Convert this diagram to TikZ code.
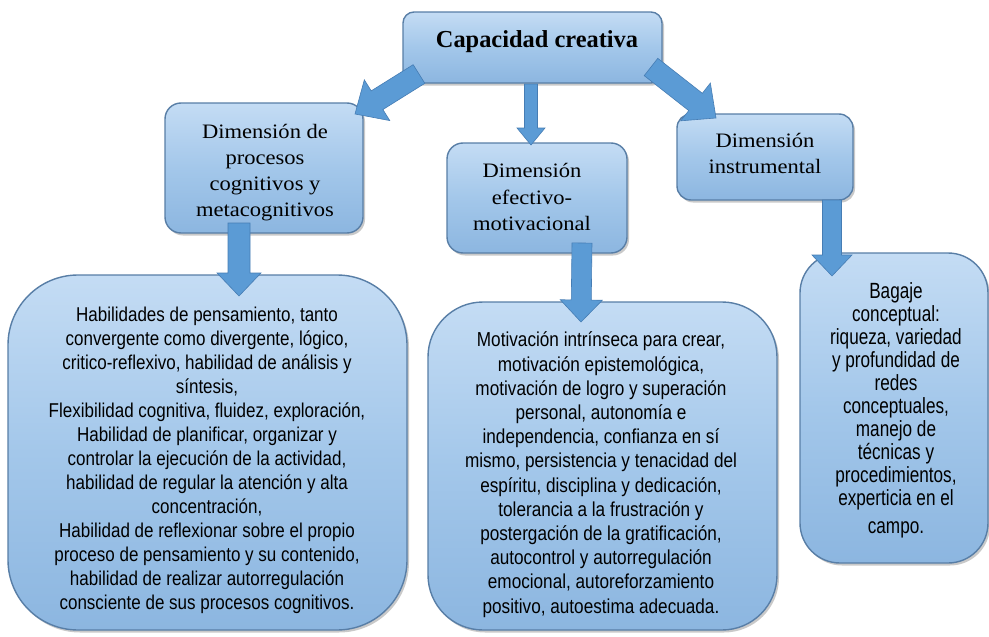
\documentclass[tikz,border=0pt]{standalone}
\usepackage{fontspec}
\setmainfont{Liberation Serif}
\newfontfamily\timesw[FakeStretch=1.1]{Liberation Serif}
\newfontfamily\arialc[FakeStretch=0.85]{Liberation Sans}
\newfontfamily\arialr[FakeStretch=0.78]{Liberation Sans}
\usetikzlibrary{calc,shadows}
\definecolor{boxtop}{RGB}{196,220,244}
\definecolor{boxmid}{RGB}{163,199,234}
\definecolor{boxbot}{RGB}{140,182,224}
\definecolor{boxline}{RGB}{88,126,166}
\definecolor{arrowc}{RGB}{91,155,213}
\definecolor{arrowline}{RGB}{70,125,180}
\tikzset{
  box/.style={draw=boxline, line width=1.4pt, top color=boxtop, bottom color=boxbot, middle color=boxmid,
    inner sep=0pt,
    drop shadow={shadow xshift=2pt, shadow yshift=-2.5pt, opacity=0.35, fill=black!60}},
  txt/.style={align=center, inner sep=0pt, text=black},
  topfont/.style={font=\bfseries\fontsize{24.4}{28}\selectfont},
  midfont/.style={font=\timesw\fontsize{20.5}{26.2}\selectfont},
  bigfont/.style={font=\arialc\fontsize{20}{24}\selectfont},
  cenfont/.style={font=\arialc\fontsize{20.2}{24.2}\selectfont},
  rightfont/.style={font=\arialr\fontsize{22}{23}\selectfont},
  arrowfill/.style={fill=arrowc, draw=arrowline, line width=0.6pt, line join=miter}
}
\newcommand\blkarrow[5]{%
  \path ($(#2)!#5!(#1)$) coordinate (hb);
  \draw[arrowfill] ($(#1)!#3!90:(#2)$) -- ($(hb)!#3!90:(#2)$) -- ($(hb)!#4!90:(#2)$) -- (#2)
    -- ($(hb)!#4!-90:(#2)$) -- ($(hb)!#3!-90:(#2)$) -- ($(#1)!#3!-90:(#2)$) -- cycle;
}
\begin{document}
\begin{tikzpicture}[x=1pt,y=-1pt]
\useasboundingbox[fill=white] (0,0) rectangle (989,637);

% boxes
\node[box, rounded corners=11pt, minimum width=259pt, minimum height=71pt] (top) at (532.5,47.5) {};
\node[box, rounded corners=16pt, minimum width=198pt, minimum height=130pt] (dpc) at (264,168) {};
\node[box, rounded corners=16pt, minimum width=180pt, minimum height=110pt] (dem) at (537,198) {};
\node[box, rounded corners=14pt, minimum width=176pt, minimum height=86pt] (din) at (765,157) {};
\node[box, rounded corners=70pt, minimum width=399pt, minimum height=355pt] (hab) at (207.5,452.5) {};
\node[box, rounded corners=55pt, minimum width=349pt, minimum height=328pt] (mot) at (602.5,466) {};
\node[box, rounded corners=40pt, minimum width=188pt, minimum height=310pt] (bag) at (894,408) {};

% texts
\node[txt, topfont] (topt) at (537,41.4) {Capacidad creativa};
\node[txt, midfont] (dpct) at (265,172.7) {Dimensión de\\procesos\\cognitivos y\\metacognitivos};
\node[txt, midfont] (demt) at (532,197) {Dimensión\\efectivo-\\motivacional};
\node[txt, midfont] (dint) at (765,153.5) {Dimensión\\instrumental};
\node[txt, bigfont] (habt) at (207,460)
  {Habilidades de pensamiento, tanto\\convergente como divergente, lógico,\\critico-reflexivo, habilidad de análisis y\\síntesis,\\Flexibilidad cognitiva, fluidez, exploración,\\Habilidad de planificar, organizar y\\controlar la ejecución de la actividad,\\habilidad de regular la atención y alta\\concentración,\\Habilidad de reflexionar sobre el propio\\proceso de pensamiento y su contenido,\\habilidad de realizar autorregulación\\consciente de sus procesos cognitivos.};
\node[txt, cenfont] (mott) at (601,474.6)
  {Motivación intrínseca para crear,\\motivación epistemológica,\\motivación de logro y superación\\personal, autonomía e\\independencia, confianza en sí\\mismo, persistencia y tenacidad del\\espíritu, disciplina y dedicación,\\tolerancia a la frustración y\\postergación de la gratificación,\\autocontrol y autorregulación\\emocional, autoreforzamiento\\positivo, autoestima adecuada.};
\node[txt, rightfont] (bagt) at (896,410)
  {Bagaje\\conceptual:\\riqueza, variedad\\y profundidad de\\redes\\conceptuales,\\manejo de\\técnicas y\\procedimientos,\\experticia en el\\[5pt]campo.};

% arrow end points
\coordinate (a1s) at (419,74);
\coordinate (a1e) at (355,114);
\coordinate (a2s) at (531,84);
\coordinate (a2e) at (531,145);
\coordinate (a3s) at (651,67);
\coordinate (a3e) at (716,118);
\coordinate (a4s) at (239,223);
\coordinate (a4e) at (239,296);
\coordinate (a5s) at (582,243);
\coordinate (a5e) at (581,322);
\coordinate (a6s) at (832,200);
\coordinate (a6e) at (832,276);

% arrows
\blkarrow{a1s}{a1e}{11pt}{24pt}{26pt}
\blkarrow{a2s}{a2e}{6.5pt}{14pt}{17pt}
\blkarrow{a3s}{a3e}{11pt}{24pt}{26pt}
\blkarrow{a4s}{a4e}{11pt}{22pt}{23pt}
\blkarrow{a5s}{a5e}{10pt}{21pt}{22pt}
\blkarrow{a6s}{a6e}{9.5pt}{20pt}{21pt}
\end{tikzpicture}
\end{document}
